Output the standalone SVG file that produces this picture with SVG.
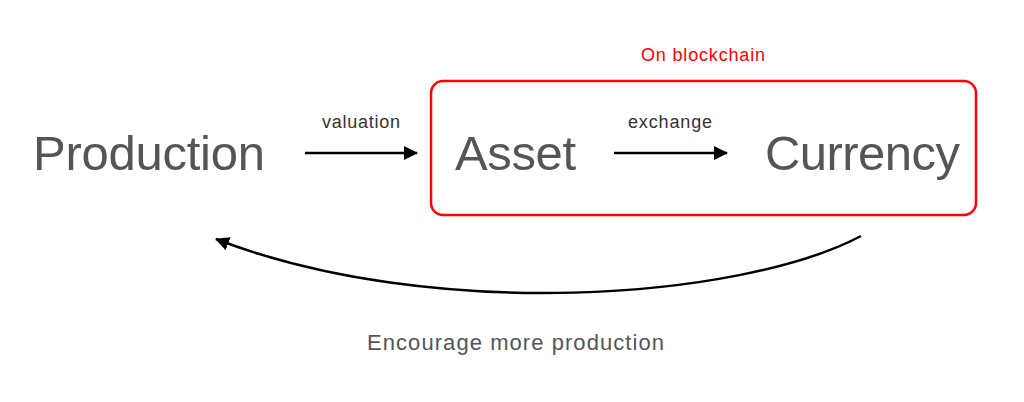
<svg xmlns="http://www.w3.org/2000/svg" width="1024" height="402" viewBox="0 0 1024 402">
<style>
.big{font-family:"Liberation Sans",Arial,sans-serif;font-size:49px;fill:#555}
.lbl{font-family:"Liberation Sans",Arial,sans-serif;font-size:18px;fill:#333}
.ln{stroke:#000;stroke-width:2.5;fill:none}
</style>
<defs>
<marker id="ah2" markerWidth="14" markerHeight="14" refX="13" refY="7" orient="auto" markerUnits="userSpaceOnUse" viewBox="0 0 14 14">
<path d="M0,0 L14,7 L0,14 Z" fill="#000"/>
</marker>
</defs>
<rect width="1024" height="402" fill="#fff"/>
<g id="blockchain">
<rect x="431" y="81" width="545" height="134" rx="12" fill="none" stroke="#f00" stroke-width="2.5"/>
<text x="641" y="61" font-family="Liberation Sans,Arial,sans-serif" font-size="18" fill="#f00" textLength="124">On blockchain</text>
</g>
<g id="production"><text class="big" x="33" y="170" textLength="232">Production</text></g>
<g id="asset"><text class="big" x="455" y="170" textLength="121">Asset</text></g>
<g id="currency"><text class="big" x="765" y="170" textLength="195">Currency</text></g>
<g id="connectors">
<line class="ln" x1="305" y1="153" x2="417" y2="153" marker-end="url(#ah2)"/>
<text class="lbl" x="322" y="128" textLength="78">valuation</text>
<line class="ln" x1="614" y1="153" x2="727" y2="153" marker-end="url(#ah2)"/>
<text class="lbl" x="628" y="128" textLength="84">exchange</text>
<path class="ln" d="M861,236 C740,300 430,322 216,239" marker-end="url(#ah2)"/>
<text x="367" y="350" font-family="Liberation Sans,Arial,sans-serif" font-size="22" fill="#555" textLength="297">Encourage more production</text>
</g>
</svg>
